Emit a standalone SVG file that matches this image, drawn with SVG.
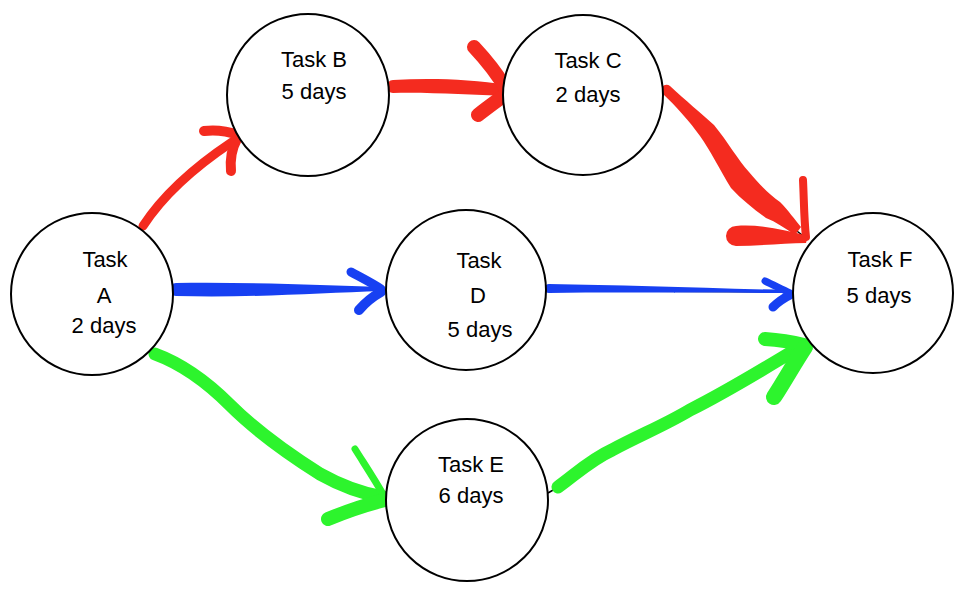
<svg xmlns="http://www.w3.org/2000/svg" width="964" height="598" viewBox="0 0 964 598">
<style>
.node circle{fill:#fff;stroke:#000;stroke-width:2}
.node text{font-family:"Liberation Sans",Arial,sans-serif;font-size:22px;text-anchor:middle;fill:#000}
.k{stroke:#000;stroke-width:1.5;fill:none}
.r,.b,.g{fill:none;stroke-linecap:round;stroke-linejoin:round}
.r{stroke:#F42B1F}
.b{stroke:#1740F2}
.g{stroke:#2DF42D}
.rf{fill:#F42B1F}
.bf{fill:#1740F2}
.gf{fill:#2DF42D}
</style>
<rect width="964" height="598" fill="#fff"/>
<g id="connectors">
  <!-- thin black connectors underneath -->
  <path class="k" d="M225,146 L238,135"/>
  <path class="k" d="M389,88 L505,91"/>
  <path class="k" d="M785,222 L806,238"/>
  <path class="k" d="M173,289 L386,290"/>
  <path class="k" d="M600,291 L792,292"/>
  <path class="k" d="M360,486 L386,497"/>
  <path class="k" d="M548,493 L560,486 M700,405 L806,343"/>

  <!-- A -> B (red) -->
  <path class="r" stroke-width="9" d="M143,226 C160,200 190,170 232,142"/>
  <path class="r" stroke-width="10" d="M204,131 C218,129 230,132 239,135"/>
  <path class="r" stroke-width="10" d="M231,171 C230,160 232,148 237,139"/>

  <!-- B -> C (red) -->
  <path class="rf" d="M393,80 C430,78 470,79 507,85 L507,96 C470,95 430,92 393,93 A6.5,6.5 0 0 1 393,80 Z"/>
  <path class="r" stroke-width="14" d="M474,47 C488,62 498,75 506,89"/>
  <path class="r" stroke-width="14" d="M478,115 C488,107 498,100 506,94"/>

  <!-- C -> F (red) -->
  <path class="rf" d="M670,86 C685,100 702,114 714,125 C728,142 738,160 749,172 C760,185 770,195 780,202 C788,210 795,220 801,227 L795,235 C785,228 776,222 766,218 C755,210 742,200 731,188 C720,170 710,150 700,136 C690,122 675,105 663,94 A5.3,5.3 0 0 1 670,86 Z"/>
  <path class="r" stroke-width="8" d="M803,180 C804,200 804,220 806,237"/>
  <path class="rf" d="M736,226 C760,224 785,230 808,236 L806,243 C785,243 760,246 736,246 A10,10 0 0 1 736,226 Z"/>

  <!-- A -> D (blue) -->
  <path class="bf" d="M176,283 C250,282 320,285 382,287 L382,291 C320,293 250,298 176,296 A6.5,6.5 0 0 1 176,283 Z"/>
  <path class="b" stroke-width="9" d="M351,272 C362,278 372,283 381,289"/>
  <path class="b" stroke-width="10" d="M359,310 C365,303 372,297 381,292"/>

  <!-- D -> F (blue) -->
  <path class="bf" d="M549,284 C620,285 700,288 790,290 L790,293 C700,293 620,292 549,293 A4.5,4.5 0 0 1 549,284 Z"/>
  <path class="b" stroke-width="7" d="M765,281 C773,285 782,289 790,293"/>
  <path class="b" stroke-width="9" d="M773,307 C778,302 784,298 790,295"/>

  <!-- A -> E (green) -->
  <path class="g" stroke-width="13" d="M155,354 C185,365 210,385 230,405 C255,430 290,455 320,474 C345,488 365,494 383,497"/>
  <path class="g" stroke-width="7" d="M355,449 C365,465 375,480 384,496"/>
  <path class="g" stroke-width="14" d="M328,519 C345,512 365,505 385,500"/>

  <!-- E -> F (green) -->
  <path class="g" stroke-width="13" d="M558,487 C575,475 590,460 612,450 C640,435 665,425 690,410 C730,390 765,368 800,347"/>
  <path class="g" stroke-width="14" d="M765,339 C780,340 792,342 804,345"/>
  <path class="g" stroke-width="16" d="M774,397 C785,380 795,362 805,347"/>
</g>

<g id="node-a" class="node">
  <circle cx="92" cy="294" r="81"/>
  <text x="105" y="267">Task</text>
  <text x="104" y="303">A</text>
  <text x="104" y="333">2 days</text>
</g>
<g id="node-b" class="node">
  <circle cx="308" cy="95" r="81"/>
  <text x="314" y="67">Task B</text>
  <text x="314" y="99">5 days</text>
</g>
<g id="node-c" class="node">
  <circle cx="583" cy="95" r="80"/>
  <text x="588" y="68">Task C</text>
  <text x="588" y="102">2 days</text>
</g>
<g id="node-d" class="node">
  <circle cx="466" cy="290" r="80"/>
  <text x="479" y="268">Task</text>
  <text x="478" y="303">D</text>
  <text x="480" y="337">5 days</text>
</g>
<g id="node-e" class="node">
  <circle cx="467" cy="500" r="81"/>
  <text x="471" y="472">Task E</text>
  <text x="471" y="503">6 days</text>
</g>
<g id="node-f" class="node">
  <circle cx="873" cy="293" r="80"/>
  <text x="880" y="267">Task F</text>
  <text x="879" y="303">5 days</text>
</g>
</svg>
